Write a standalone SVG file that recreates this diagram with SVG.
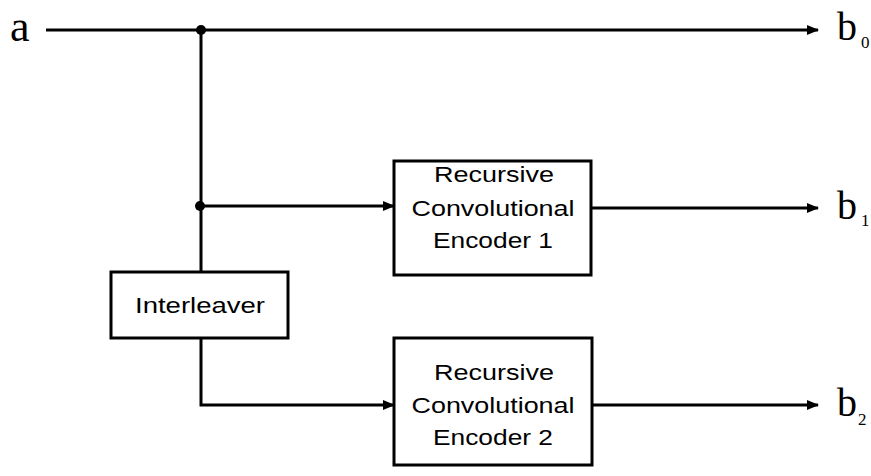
<svg xmlns="http://www.w3.org/2000/svg" width="871" height="476" viewBox="0 0 871 476">
<style>
.ln{stroke:#000;stroke-width:3;fill:none}
.box{stroke:#000;stroke-width:3;fill:#fff}
.t{font-family:"Liberation Sans",Arial,sans-serif;font-size:22px;fill:#000;text-anchor:middle}
.s{font-family:"Liberation Serif","Times New Roman",serif;fill:#000}
</style>
<defs>
<marker id="ah" markerWidth="12" markerHeight="10" refX="11" refY="5" orient="auto" markerUnits="userSpaceOnUse">
<path d="M0,0 L12,5 L0,10 Z" fill="#000"/>
</marker>
</defs>
<g id="connectors">
<line class="ln" x1="46" y1="30" x2="818" y2="30" marker-end="url(#ah)"/>
<line class="ln" x1="201" y1="30" x2="201" y2="272"/>
<line class="ln" x1="201" y1="206" x2="394" y2="206" marker-end="url(#ah)"/>
<line class="ln" x1="591" y1="208" x2="818" y2="208" marker-end="url(#ah)"/>
<polyline class="ln" points="201,338 201,405 394,405" marker-end="url(#ah)"/>
<line class="ln" x1="592" y1="405" x2="818" y2="405" marker-end="url(#ah)"/>
<circle cx="201" cy="30" r="5" fill="#000"/>
<circle cx="200" cy="206" r="5" fill="#000"/>
</g>
<g id="input-a"><text class="s" x="10" y="41" font-size="44">a</text></g>
<g id="out-b0"><text class="s" x="837" y="40" font-size="40">b</text><text class="s" x="861" y="48" font-size="17">0</text></g>
<g id="out-b1"><text class="s" x="837" y="219" font-size="40">b</text><text class="s" x="861" y="226" font-size="17">1</text></g>
<g id="out-b2"><text class="s" x="837" y="416" font-size="40">b</text><text class="s" x="858" y="425" font-size="17">2</text></g>
<g id="encoder1">
<rect class="box" x="394" y="161" width="197" height="114"/>
<text class="t" x="494" y="182" textLength="120" lengthAdjust="spacingAndGlyphs">Recursive</text>
<text class="t" x="493" y="216" textLength="163" lengthAdjust="spacingAndGlyphs">Convolutional</text>
<text class="t" x="493" y="248" textLength="120" lengthAdjust="spacingAndGlyphs">Encoder 1</text>
</g>
<g id="interleaver">
<rect class="box" x="111" y="272" width="177" height="66"/>
<text class="t" x="200" y="313" textLength="130" lengthAdjust="spacingAndGlyphs">Interleaver</text>
</g>
<g id="encoder2">
<rect class="box" x="394" y="338" width="198" height="127"/>
<text class="t" x="494" y="380" textLength="120" lengthAdjust="spacingAndGlyphs">Recursive</text>
<text class="t" x="493" y="413" textLength="163" lengthAdjust="spacingAndGlyphs">Convolutional</text>
<text class="t" x="493" y="445" textLength="120" lengthAdjust="spacingAndGlyphs">Encoder 2</text>
</g>
</svg>
